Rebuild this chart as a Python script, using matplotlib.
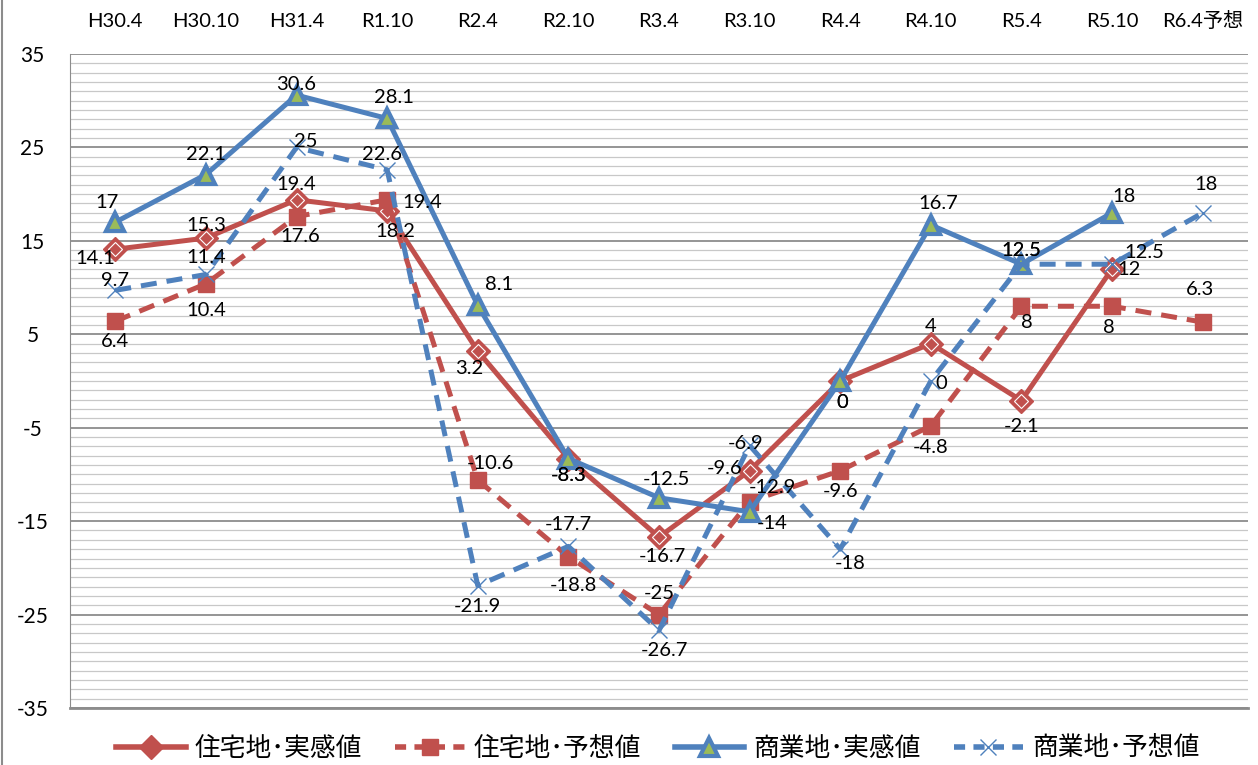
import numpy as np
import matplotlib
matplotlib.use("Agg")
import matplotlib.pyplot as plt
from matplotlib.lines import Line2D

plt.rcParams['font.family'] = ['Lato', 'Noto Sans CJK JP', 'DejaVu Sans']
plt.rcParams['axes.unicode_minus'] = False

periods = ["H30.4", "H30.10", "H31.4", "R1.10", "R2.4", "R2.10", "R3.4",
           "R3.10", "R4.4", "R4.10", "R5.4", "R5.10", "R6.4予想"]

res_actual = [14.1, 15.3, 19.4, 18.2, 3.2, -8.3, -16.7, -9.6, 0, 4, -2.1, 12, np.nan]
res_forecast = [6.4, 10.4, 17.6, 19.4, -10.6, -18.8, -25, -12.9, -9.6, -4.8, 8, 8, 6.3]
com_actual = [17, 22.1, 30.6, 28.1, 8.1, -8.3, -12.5, -14, 0, 16.7, 12.5, 18, np.nan]
com_forecast = [9.7, 11.4, 25, 22.6, -21.9, -17.7, -26.7, -6.9, -18, 0, 12.5, 12.5, 18]

names = ["住宅地･実感値", "住宅地･予想値", "商業地･実感値", "商業地･予想値"]

red = '#C0504D'
blue = '#4F81BD'
green = '#9BBB59'

# label offsets (pixels) for each point, picked by eye
off_ra = [(-20, -9), (0, 13), (0, 15), (8, -21), (-9, -17), (0, -17), (3, -19),
          (-25, 2), (2, -21), (0, 17), (0, -26), (17, -1), (0, 0)]
off_rf = [(0, -20), (0, -27), (4, -20), (35, -3), (13, 17), (5, -29), (0, 21),
          (23, 14), (0, -21), (0, -22), (5, -16), (-3, -21), (-3, 33)]
off_ca = [(-8, 20), (0, 20), (0, 11), (7, 21), (21, 21), (0, -17), (7, 18),
          (23, -12), (2, -21), (7, 21), (0, 14), (12, 16), (0, 0)]
off_cf = [(0, 10), (0, 17), (9, 6), (-5, 15), (0, -21), (0, 22), (5, -20),
          (-4, 2), (10, -14), (10, -2), (0, 14), (32, 12), (3, 28)]

fig = plt.figure(figsize=(12.58, 7.65), dpi=100)
ax = fig.add_axes([70 / 1258, 57 / 765, 1178 / 1258, 654 / 765])

x = np.arange(len(periods))
dash = (0, (3.2, 2.0))

ax.plot(x, res_actual, color=red, lw=3.6, marker='D', ms=12, mfc=red,
        mec=red, mew=1, zorder=4)
ax.plot(x, res_actual, ls='none', marker='D', ms=7, mfc=red, mec='white',
        mew=0.8, zorder=4)
ax.plot(x, res_forecast, color=red, lw=3.6, ls=dash, marker='s', ms=12,
        mfc=red, mec=red, zorder=4)
ax.plot(x, com_actual, color=blue, lw=3.6, marker='^', ms=13, mfc=green,
        mec=blue, mew=3, zorder=5)
ax.plot(x, com_forecast, color=blue, lw=3.6, ls=dash, marker='x', ms=12,
        mec=blue, mew=1, zorder=5)

for vals, offs in [(res_actual, off_ra), (res_forecast, off_rf),
                   (com_actual, off_ca), (com_forecast, off_cf)]:
    for xi, v, o in zip(x, vals, offs):
        if np.isnan(v):
            continue
        ax.annotate(f"{v:g}", (xi, v), xytext=o, textcoords='offset pixels',
                    ha='center', va='center', fontsize=14.5, zorder=6)

ax.set_xlim(-0.5, len(periods) - 0.5)
ax.set_ylim(-35, 35)
ax.set_yticks(np.arange(-35, 36, 10))
ax.set_yticks(np.arange(-35, 36, 1), minor=True)
ax.yaxis.grid(True, which='minor', color='#c8c8c8', lw=0.9)
ax.yaxis.grid(True, which='major', color='#8c8c8c', lw=1.3)
ax.set_axisbelow(True)
ax.tick_params(axis='y', which='both', length=0, labelsize=15)
for lab in ax.get_yticklabels():
    lab.set_horizontalalignment('center')
ax.tick_params(axis='y', pad=27)

ax.xaxis.tick_top()
ax.set_xticks(x)
ax.set_xticklabels(periods, fontsize=14.5)
ax.tick_params(axis='x', length=0, pad=17)

for s in ['top', 'right']:
    ax.spines[s].set_visible(False)
ax.spines['left'].set_color('#8c8c8c')
ax.spines['bottom'].set_color('#8c8c8c')
ax.spines['bottom'].set_linewidth(2)

handles = [
    Line2D([], [], color=red, lw=4, marker='D', ms=12, mfc=red, mec=red),
    Line2D([], [], color=red, lw=4, ls=(0, (2, 1.5)), marker='s', ms=12, mfc=red, mec=red),
    Line2D([], [], color=blue, lw=4, marker='^', ms=13, mfc=green, mec=blue, mew=3),
    Line2D([], [], color=blue, lw=4, ls=(0, (2, 1.5)), marker='x', ms=12, mec=blue, mew=1),
]
fig.legend(handles, names, loc='center', bbox_to_anchor=(0.523, 0.021), ncol=4,
           frameon=False, handlelength=2.7, columnspacing=1.3,
           handletextpad=0.35, prop={'family': ['Noto Sans CJK JP'], 'size': 18.5})

fig.add_artist(Line2D([2 / 1258, 2 / 1258], [0, 1], color='#8c8c8c', lw=1.5))

fig.savefig("out.png", dpi=100)
